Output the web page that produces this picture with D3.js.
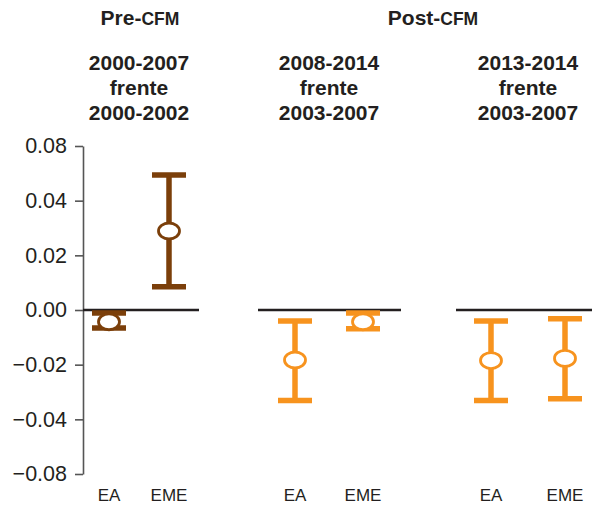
<!DOCTYPE html>
<html>
<head>
<meta charset="utf-8">
<script src="https://cdn.jsdelivr.net/npm/d3@7"></script>
<style>
  html, body { margin: 0; padding: 0; background: #fff; }
  svg { display: block; }
  text { font-family: "Liberation Sans", Arial, Helvetica, sans-serif; fill: #231f20; }
</style>
</head>
<body>
<svg id="chart" width="596" height="505"></svg>
<script>
// Groups and period comparisons
const categories = ["EA", "EME"];
const periodPrefixes = ["Pre-", "Post-"];
const periodSuffix = "CFM";
const panelTitles = [
  ["2000-2007", "frente", "2000-2002"],
  ["2008-2014", "frente", "2003-2007"],
  ["2013-2014", "frente", "2003-2007"]
];

// Point estimates and confidence bounds per panel (EA, EME)
const estimates = [[-0.0043, 0.0289], [-0.0183, -0.0043], [-0.0185, -0.0177]];
const lowerBounds = [[-0.0066, 0.0085], [-0.0331, -0.0069], [-0.0331, -0.0325]];
const upperBounds = [[-0.0011, 0.0494], [-0.0040, -0.0011], [-0.0040, -0.0032]];

// Y axis ticks and their printed labels
const tickValues = [0.06, 0.04, 0.02, 0, -0.02, -0.04, -0.06];
const tickLabels = ["0.08", "0.04", "0.02", "0.00", "\u22120.02", "\u22120.04", "\u22120.08"];

const svg = d3.select("#chart");
const ink = "#231f20";
const brown = "#7b3f0a";
const orange = "#f7931e";

const y = d3.scaleLinear().domain([-0.06, 0.06]).range([474, 146]);

// Axis
const axis = d3.axisLeft(y)
  .tickValues(tickValues)
  .tickFormat((d, i) => tickLabels[i])
  .tickSize(8)
  .tickSizeOuter(0)
  .tickPadding(8);
const gAxis = svg.append("g").attr("transform", "translate(83,0)").call(axis);
gAxis.select(".domain").attr("stroke", "#555").attr("stroke-width", 1.6);
gAxis.selectAll(".tick line").attr("stroke", "#555").attr("stroke-width", 1.6);
gAxis.selectAll(".tick text")
  .attr("font-size", 21.5)
  .attr("font-family", "Liberation Sans, Arial, sans-serif")
  .attr("fill", ink);

// Panel layout: zero-line extent and category positions
const panelLayout = [
  { line: [83, 199], points: [109, 169], color: brown },
  { line: [258, 401], points: [295, 363], color: orange },
  { line: [456, 592], points: [491, 565], color: orange }
];

// Period headers
const periodCenters = [140, 433];
periodPrefixes.forEach((p, i) => {
  const t = svg.append("text")
    .attr("x", periodCenters[i]).attr("y", 25)
    .attr("text-anchor", "middle")
    .attr("font-weight", "bold");
  t.append("tspan").attr("font-size", 21).text(p);
  t.append("tspan").attr("font-size", 17.5).text(periodSuffix);
});

panelLayout.forEach((pl, pi) => {
  const x = d3.scalePoint().domain(categories).range(pl.points);
  const g = svg.append("g");
  const cx = (pl.points[0] + pl.points[1]) / 2;

  // Panel title lines
  panelTitles[pi].forEach((line, li) => {
    g.append("text")
      .attr("x", cx).attr("y", 70 + li * 25)
      .attr("text-anchor", "middle")
      .attr("font-weight", "bold")
      .attr("font-size", 21)
      .text(line);
  });

  // Zero reference line
  g.append("line")
    .attr("x1", pl.line[0]).attr("x2", pl.line[1])
    .attr("y1", y(0)).attr("y2", y(0))
    .attr("stroke", ink).attr("stroke-width", 2.6);

  const rows = categories.map((c, ci) => ({
    cat: c,
    est: estimates[pi][ci],
    lo: lowerBounds[pi][ci],
    hi: upperBounds[pi][ci]
  }));

  const bars = g.selectAll("g.bar").data(rows).join("g").attr("class", "bar");
  bars.append("line")
    .attr("x1", d => x(d.cat)).attr("x2", d => x(d.cat))
    .attr("y1", d => y(d.hi)).attr("y2", d => y(d.lo))
    .attr("stroke", pl.color).attr("stroke-width", 5.5);
  ["hi", "lo"].forEach(k => {
    bars.append("line")
      .attr("x1", d => x(d.cat) - 17).attr("x2", d => x(d.cat) + 17)
      .attr("y1", d => y(d[k])).attr("y2", d => y(d[k]))
      .attr("stroke", pl.color).attr("stroke-width", 5.5);
  });
  bars.append("ellipse")
    .attr("cx", d => x(d.cat)).attr("cy", d => y(d.est))
    .attr("rx", 10.5).attr("ry", 8)
    .attr("fill", "#fff")
    .attr("stroke", pl.color).attr("stroke-width", 2.8);

  // Category labels
  g.selectAll("text.cat").data(categories).join("text")
    .attr("class", "cat")
    .attr("x", d => x(d)).attr("y", 501)
    .attr("text-anchor", "middle")
    .attr("font-size", 17)
    .text(d => d);
});
</script>
</body>
</html>
